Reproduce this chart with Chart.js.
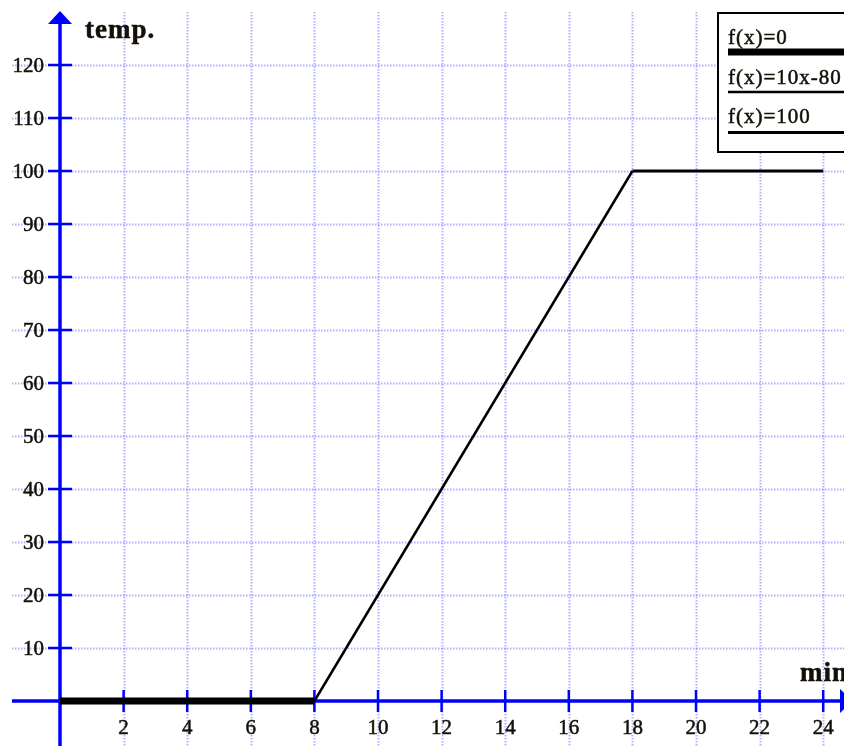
<!DOCTYPE html>
<html>
<head>
<meta charset="utf-8">
<script src="https://cdn.jsdelivr.net/npm/chart.js@4/dist/chart.umd.min.js"></script>
<style>
  html, body { margin: 0; padding: 0; background: #fff; }
  canvas { display: block; }
</style>
</head>
<body>
<canvas id="c" width="844" height="746"></canvas>
<script>
// Heating curve: temperature against time in minutes
const X_TICKS = [2, 4, 6, 8, 10, 12, 14, 16, 18, 20, 22, 24];
const Y_TICKS = [10, 20, 30, 40, 50, 60, 70, 80, 90, 100, 110, 120];
const SERIES_NAMES = ['f(x)=0', 'f(x)=10x-80', 'f(x)=100'];
const FLAT_X = [0, 8];
const FLAT_Y = [0, 0];
const RAMP_X = [8, 18];
const RAMP_Y = [0, 100];
const HOLD_X = [18, 24];
const HOLD_Y = [100, 100];
const X_TITLE = 'min';
const Y_TITLE = 'temp.';

const SERIF = '"Liberation Serif", "Times New Roman", serif';
const AXIS_BLUE = '#0000ff';
const GRID_BLUE = 'rgba(110,110,255,0.55)';
const INK = '#141008';

const pts = (xs, ys) => xs.map((x, i) => ({ x, y: ys[i] }));

function withSpacing(ctx, px, fn) {
  const had = 'letterSpacing' in ctx;
  if (had) ctx.letterSpacing = px + 'px';
  fn();
  if (had) ctx.letterSpacing = '0px';
}

// filled text with a hairline outline so the serif glyphs read a little heavier
function heavyText(ctx, str, x, y) {
  ctx.fillText(str, x, y);
  ctx.strokeText(str, x, y);
}

// Axes through the origin, with arrows, ticks, grid and tick labels
const cartesianAxes = {
  id: 'cartesianAxes',
  beforeDatasetsDraw(chart) {
    const { ctx, scales: { x, y }, width, height } = chart;
    const ox = x.getPixelForValue(0);
    const oy = y.getPixelForValue(0);
    ctx.save();

    // dotted grid
    ctx.strokeStyle = GRID_BLUE;
    ctx.lineWidth = 2;
    ctx.setLineDash([1.5, 1.5]);
    X_TICKS.forEach(v => {
      const px = Math.round(x.getPixelForValue(v)) + 0.5;
      ctx.beginPath(); ctx.moveTo(px, 12); ctx.lineTo(px, height); ctx.stroke();
    });
    Y_TICKS.forEach(v => {
      const py = Math.round(y.getPixelForValue(v)) + 0.5;
      ctx.beginPath(); ctx.moveTo(12, py); ctx.lineTo(width, py); ctx.stroke();
    });
    ctx.setLineDash([]);

    // axis lines
    ctx.strokeStyle = AXIS_BLUE;
    ctx.fillStyle = AXIS_BLUE;
    ctx.lineWidth = 3.5;
    ctx.beginPath(); ctx.moveTo(ox, 24); ctx.lineTo(ox, height); ctx.stroke();
    ctx.beginPath(); ctx.moveTo(12, oy); ctx.lineTo(840, oy); ctx.stroke();

    // arrow heads
    ctx.beginPath();
    ctx.moveTo(ox, 11); ctx.lineTo(ox - 12, 24); ctx.lineTo(ox + 12, 24); ctx.closePath(); ctx.fill();
    ctx.beginPath();
    ctx.moveTo(853, oy); ctx.lineTo(840, oy - 12); ctx.lineTo(840, oy + 12); ctx.closePath(); ctx.fill();

    // tick marks
    ctx.lineWidth = 2.5;
    X_TICKS.forEach(v => {
      const px = x.getPixelForValue(v);
      ctx.beginPath(); ctx.moveTo(px, oy - 11); ctx.lineTo(px, oy + 11); ctx.stroke();
    });
    Y_TICKS.forEach(v => {
      const py = y.getPixelForValue(v);
      ctx.beginPath(); ctx.moveTo(ox - 12, py); ctx.lineTo(ox + 12, py); ctx.stroke();
    });

    // tick labels
    ctx.fillStyle = INK;
    ctx.strokeStyle = INK;
    ctx.lineWidth = 0.5;
    ctx.font = '21px ' + SERIF;
    ctx.textBaseline = 'alphabetic';
    ctx.textAlign = 'center';
    X_TICKS.forEach(v => heavyText(ctx, String(v), x.getPixelForValue(v), oy + 33));
    ctx.textAlign = 'right';
    Y_TICKS.forEach(v => heavyText(ctx, String(v), ox - 16, y.getPixelForValue(v) + 7));

    // axis titles
    ctx.font = 'bold 27px ' + SERIF;
    ctx.textAlign = 'left';
    withSpacing(ctx, 1, () => {
      heavyText(ctx, Y_TITLE, 85, 38);
      heavyText(ctx, X_TITLE, 800, oy - 20);
    });
    ctx.restore();
  },

  // boxed key in the top right corner
  afterDatasetsDraw(chart) {
    const { ctx } = chart;
    ctx.save();
    ctx.fillStyle = '#fff';
    ctx.fillRect(718, 13, 140, 139);
    ctx.strokeStyle = '#000';
    ctx.lineWidth = 2;
    ctx.strokeRect(718, 13, 140, 139);

    const baselines = [44, 84, 123];
    const lineYs = [52, 92, 132.5];
    ctx.font = '21px ' + SERIF;
    ctx.textAlign = 'left';
    ctx.textBaseline = 'alphabetic';
    chart.data.datasets.forEach((ds, i) => {
      ctx.fillStyle = INK;
      ctx.strokeStyle = INK;
      ctx.lineWidth = 0.5;
      withSpacing(ctx, 1, () => heavyText(ctx, ds.label, 728, baselines[i]));
      ctx.strokeStyle = ds.borderColor;
      ctx.lineWidth = ds.borderWidth;
      ctx.beginPath(); ctx.moveTo(728, lineYs[i]); ctx.lineTo(860, lineYs[i]); ctx.stroke();
    });
    ctx.restore();
  }
};

const seg = (label, xs, ys, w) => ({
  label,
  data: pts(xs, ys),
  showLine: true,
  borderColor: '#000',
  backgroundColor: '#000',
  borderWidth: w,
  pointRadius: 0,
  borderCapStyle: 'butt',
  tension: 0
});

new Chart(document.getElementById('c'), {
  type: 'scatter',
  data: {
    datasets: [
      seg(SERIES_NAMES[0], FLAT_X, FLAT_Y, 7),
      seg(SERIES_NAMES[1], RAMP_X, RAMP_Y, 2.5),
      seg(SERIES_NAMES[2], HOLD_X, HOLD_Y, 3)
    ]
  },
  options: {
    responsive: false,
    animation: false,
    layout: { padding: 0 },
    plugins: { legend: { display: false }, tooltip: { enabled: false } },
    scales: {
      x: { type: 'linear', display: false, min: -1.887, max: 24.654 },
      y: { type: 'linear', display: false, min: -8.491, max: 132.264 }
    }
  },
  plugins: [cartesianAxes]
});
</script>
</body>
</html>
